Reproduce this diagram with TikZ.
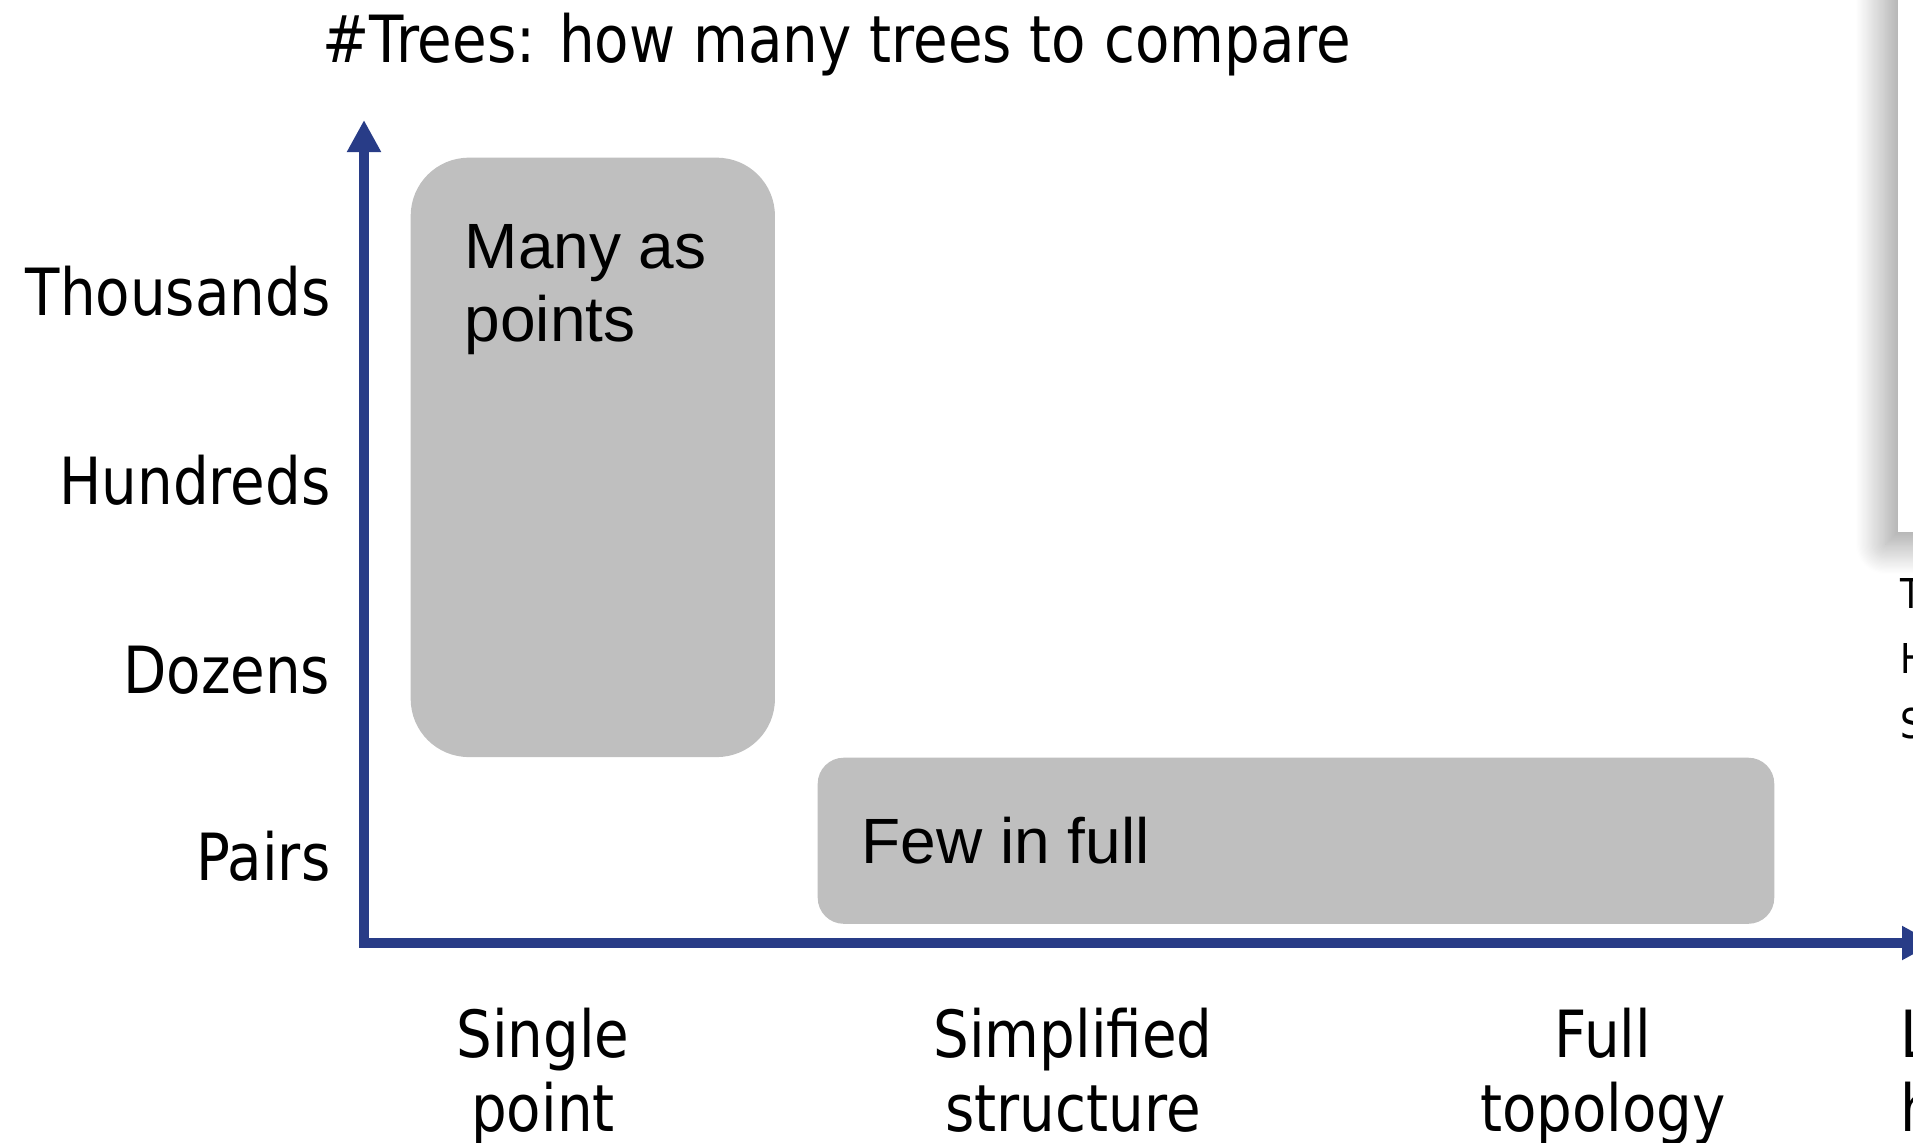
\documentclass[tikz,border=0pt]{standalone}
\usepackage{fontspec}
\setmainfont{Liberation Sans}
\newfontfamily\axisfont[FakeStretch=0.865]{DejaVu Sans}
\usetikzlibrary{arrows.meta,positioning,shadows.blur}
\definecolor{axisblue}{RGB}{40,60,135}
\definecolor{boxgray}{RGB}{191,191,191}

\begin{document}
\begin{tikzpicture}[
        x=0.01cm, y=-0.01cm,
        axis/.style={line width=0.1cm, draw=axisblue, line join=miter, {Triangle[width=0.32cm,length=0.32cm]}-{Triangle[width=0.32cm,length=0.32cm]}}, % axes with tips
        level/.style={font=\axisfont\fontsize{18.5}{21}\selectfont, inner sep=0pt, anchor=base east},
        detail/.style={font=\axisfont\fontsize{18.5}{21}\selectfont, inner sep=0pt, align=center, anchor=base},
        region/.style={fill=boxgray, inner sep=0pt, anchor=north west},
        regiontext/.style={font=\fontsize{18.2}{21}\selectfont, inner sep=0pt, align=left, anchor=base west},
        edge/.style={font=\axisfont\fontsize{11.7}{14}\selectfont, inner sep=0pt, anchor=base west}
    ]
    \useasboundingbox (0,0) rectangle (1913,1143);
    \clip (0,0) rectangle (1913,1143);

    % panel cut off at the right
    \node (panel) [fill=white, inner sep=0pt, minimum width=2cm, minimum height=6.5cm, anchor=south west,
        blur shadow={shadow xshift=-0.12cm, shadow yshift=-0.12cm, shadow blur radius=0.3cm, shadow blur steps=25, shadow opacity=40}] at (1897,533) {};
    \node (edgeT) [edge] at (1900,608) {T};
    \node (edgeH) [edge] at (1900,673) {H};
    \node (edgeS) [edge] at (1900,738) {S};

    % title
    \node (title) [anchor=base west, inner sep=0pt, font=\axisfont\fontsize{18.5}{21}\selectfont] at (322,63) {\#Trees: how many trees to compare};

    % regions
    \node (many) [region, rounded corners=0.58cm, minimum width=3.64cm, minimum height=5.99cm] at (410,157) {};
    \node (few) [region, rounded corners=0.26cm, minimum width=9.56cm, minimum height=1.66cm] at (817,757) {};
    \node (manytext) [regiontext] at (464,342) {Many as\\points};
    \node (fewtext) [regiontext] at (861,863) {Few in full};

    % axes
    \coordinate (ytip) at (364,120);
    \coordinate (origin) at (364,943);
    \coordinate (xtip) at (1934,943);
    \draw[axis] (ytip) -- (origin) -- (xtip);

    % levels on the vertical axis
    \node (thousands) [level] at (331,316) {Thousands};
    \node (hundreds) [level] at (331,504) {Hundreds};
    \node (dozens) [level] at (331,693) {Dozens};
    \node (pairs) [level] at (331,880) {Pairs};

    % detail on the horizontal axis
    \node (single) [detail] at (543,1131) {Single\\point};
    \node (simplified) [detail] at (1073,1131) {Simplified\\structure};
    \node (full) [detail] at (1603,1131) {Full\\topology};
    \node (cut) [detail, align=left, anchor=base west] at (1900,1131) {L\\h};
\end{tikzpicture}
\end{document}
